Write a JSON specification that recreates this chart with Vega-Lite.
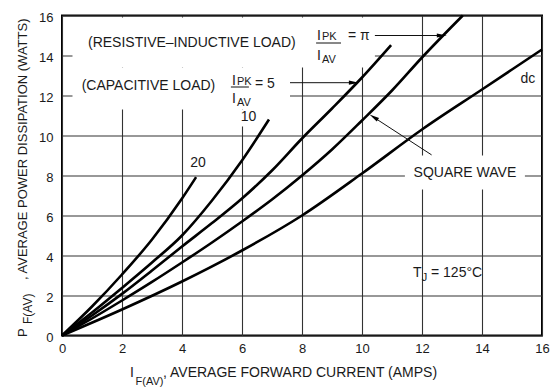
{
  "$schema": "https://vega.github.io/schema/vega-lite/v6.json",
  "width": 480,
  "height": 320,
  "autosize": "none",
  "padding": {"left": 62, "top": 15.5, "right": 15, "bottom": 56.5},
  "background": "white",
  "config": {
    "view": {"stroke": "#000", "strokeWidth": 2},
    "font": "Liberation Sans",
    "text": {"font": "Liberation Sans", "fontSize": 14, "color": "#1a1a1a"}
  },
  "encoding": {
    "x": {
      "field": "x", "type": "quantitative",
      "scale": {"domain": [0, 16], "nice": false, "zero": false},
      "axis": {
        "values": [0, 2, 4, 6, 8, 10, 12, 14, 16],
        "grid": true, "gridColor": "#333", "gridWidth": 1.1,
        "domain": false, "ticks": false,
        "labelFont": "Liberation Sans", "labelFontSize": 13, "labelColor": "#1a1a1a",
        "labelPadding": 7, "labelFlush": false, "title": null
      }
    },
    "y": {
      "field": "y", "type": "quantitative",
      "scale": {"domain": [0, 16], "nice": false, "zero": false},
      "axis": {
        "values": [0, 2, 4, 6, 8, 10, 12, 14, 16],
        "grid": true, "gridColor": "#333", "gridWidth": 1.1,
        "domain": false, "ticks": false,
        "labelFont": "Liberation Sans", "labelFontSize": 13, "labelColor": "#1a1a1a",
        "labelPadding": 9, "labelOffset": 2, "labelFlush": false, "title": null
      }
    }
  },
  "layer": [
    {
      "description": "white boxes behind the annotation text",
      "data": {"values": [
        {"x": 0.35, "x2": 10.43, "y": 13.4, "y2": 15.9},
        {"x": 0.35, "x2": 7.6, "y": 11.3, "y2": 13.4},
        {"x": 5.85, "x2": 6.6, "y": 10.45, "y2": 11.3},
        {"x": 11.43, "x2": 15.43, "y": 7.3, "y2": 9.0}
      ]},
      "mark": {"type": "rect", "color": "white"},
      "encoding": {"x2": {"field": "x2"}, "y2": {"field": "y2"}}
    },
    {
      "description": "power dissipation curves",
      "data": {"values": [
        {"s": "20", "x": 0, "y": 0}, {"s": "20", "x": 1, "y": 1.45}, {"s": "20", "x": 2, "y": 3.05},
        {"s": "20", "x": 3, "y": 4.8}, {"s": "20", "x": 4, "y": 6.85}, {"s": "20", "x": 4.47, "y": 7.92},
        {"s": "10", "x": 0, "y": 0}, {"s": "10", "x": 1, "y": 1.15}, {"s": "10", "x": 2, "y": 2.38},
        {"s": "10", "x": 3, "y": 3.65}, {"s": "10", "x": 4, "y": 5.0}, {"s": "10", "x": 5, "y": 6.75},
        {"s": "10", "x": 6, "y": 8.75}, {"s": "10", "x": 6.9, "y": 10.8},
        {"s": "5", "x": 0, "y": 0}, {"s": "5", "x": 1, "y": 1.0}, {"s": "5", "x": 2, "y": 2.08},
        {"s": "5", "x": 3, "y": 3.25}, {"s": "5", "x": 4, "y": 4.45}, {"s": "5", "x": 5, "y": 5.62},
        {"s": "5", "x": 6, "y": 6.85}, {"s": "5", "x": 7, "y": 8.25}, {"s": "5", "x": 8, "y": 9.85},
        {"s": "5", "x": 9, "y": 11.35}, {"s": "5", "x": 10, "y": 12.9}, {"s": "5", "x": 10.97, "y": 14.52},
        {"s": "pi", "x": 0, "y": 0}, {"s": "pi", "x": 1, "y": 0.85}, {"s": "pi", "x": 2, "y": 1.75},
        {"s": "pi", "x": 3, "y": 2.68}, {"s": "pi", "x": 4, "y": 3.65}, {"s": "pi", "x": 5, "y": 4.65},
        {"s": "pi", "x": 6, "y": 5.7}, {"s": "pi", "x": 7, "y": 6.8}, {"s": "pi", "x": 8, "y": 8.0},
        {"s": "pi", "x": 9, "y": 9.3}, {"s": "pi", "x": 10, "y": 10.75}, {"s": "pi", "x": 11, "y": 12.25},
        {"s": "pi", "x": 12, "y": 13.9}, {"s": "pi", "x": 13.36, "y": 16.0},
        {"s": "dc", "x": 0, "y": 0}, {"s": "dc", "x": 2, "y": 1.3}, {"s": "dc", "x": 4, "y": 2.7},
        {"s": "dc", "x": 6, "y": 4.25}, {"s": "dc", "x": 8, "y": 6.0}, {"s": "dc", "x": 10, "y": 8.1},
        {"s": "dc", "x": 12, "y": 10.3}, {"s": "dc", "x": 14, "y": 12.3}, {"s": "dc", "x": 16, "y": 14.3}
      ]},
      "mark": {"type": "line", "color": "#000", "strokeWidth": 2.6, "interpolate": "monotone"},
      "encoding": {"detail": {"field": "s"}}
    },
    {
      "description": "arrow shafts and fraction bars",
      "data": {"values": [
        {"x": 10.43, "x2": 12.7, "y": 15.0, "y2": 15.0},
        {"x": 7.6, "x2": 9.75, "y": 12.64, "y2": 12.64},
        {"x": 12.32, "x2": 10.35, "y": 9.03, "y2": 10.95},
        {"x": 8.47, "x2": 9.3, "y": 14.625, "y2": 14.625},
        {"x": 5.63, "x2": 6.23, "y": 12.425, "y2": 12.425}
      ]},
      "mark": {"type": "rule", "color": "#111", "strokeWidth": 1},
      "encoding": {"x2": {"field": "x2"}, "y2": {"field": "y2"}}
    },
    {
      "description": "right-pointing arrowheads",
      "data": {"values": [{"x": 12.66, "y": 15.0}, {"x": 9.73, "y": 12.64}]},
      "mark": {"type": "point", "filled": true, "color": "#000", "opacity": 1, "size": 100,
               "shape": "M1,0L-1,-0.42L-1,0.42Z"},
      "encoding": {}
    },
    {
      "description": "square wave arrowhead",
      "data": {"values": [{"x": 10.39, "y": 10.92}]},
      "mark": {"type": "point", "filled": true, "color": "#000", "opacity": 1, "size": 100, "angle": 213,
               "shape": "M1,0L-1,-0.42L-1,0.42Z"},
      "encoding": {}
    },
    {
      "description": "left-aligned annotation text",
      "data": {"values": [
        {"x": 0.867, "y": 14.425, "t": "(RESISTIVE–INDUCTIVE LOAD)"},
        {"x": 0.657, "y": 12.275, "t": "(CAPACITIVE LOAD)"},
        {"x": 8.5, "y": 14.775, "t": "I"},
        {"x": 9.533, "y": 14.775, "t": "= π"},
        {"x": 8.5, "y": 13.775, "t": "I"},
        {"x": 5.667, "y": 12.525, "t": "I"},
        {"x": 6.433, "y": 12.375, "t": "= 5"},
        {"x": 5.667, "y": 11.625, "t": "I"},
        {"x": 11.7, "y": 2.925, "t": "T"},
        {"x": 12.3, "y": 2.925, "t": "= 125°C"},
        {"x": 2.267, "y": -2.075, "t": "I"},
        {"x": 3.367, "y": -2.075, "t": ", AVERAGE FORWARD CURRENT (AMPS)"}
      ]},
      "mark": {"type": "text", "align": "left", "baseline": "alphabetic", "fontSize": 14},
      "encoding": {"text": {"field": "t"}}
    },
    {
      "description": "subscripts",
      "data": {"values": [
        {"x": 8.667, "y": 14.775, "t": "PK"},
        {"x": 8.667, "y": 13.625, "t": "AV"},
        {"x": 5.833, "y": 12.525, "t": "PK"},
        {"x": 5.833, "y": 11.475, "t": "AV"},
        {"x": 11.99, "y": 2.725, "t": "J"},
        {"x": 2.45, "y": -2.475, "t": "F(AV)"}
      ]},
      "mark": {"type": "text", "align": "left", "baseline": "alphabetic", "fontSize": 11},
      "encoding": {"text": {"field": "t"}}
    },
    {
      "description": "curve labels",
      "data": {"values": [
        {"x": 6.217, "y": 10.925, "t": "10"},
        {"x": 4.533, "y": 8.625, "t": "20"},
        {"x": 15.53, "y": 12.85, "t": "dc"},
        {"x": 13.43, "y": 8.15, "t": "SQUARE WAVE"}
      ]},
      "mark": {"type": "text", "align": "center", "baseline": "middle", "fontSize": 14},
      "encoding": {"text": {"field": "t"}}
    },
    {
      "description": "vertical axis title",
      "data": {"values": [
        {"x": -1.167, "y": -0.075, "t": "P"},
        {"x": -1.167, "y": 2.775, "t": ", AVERAGE POWER DISSIPATION (WATTS)"}
      ]},
      "mark": {"type": "text", "align": "left", "baseline": "alphabetic", "angle": 270, "fontSize": 13},
      "encoding": {"text": {"field": "t"}}
    },
    {
      "description": "vertical axis title subscript",
      "data": {"values": [{"x": -1.0, "y": 0.575, "t": "F(AV)"}]},
      "mark": {"type": "text", "align": "left", "baseline": "alphabetic", "angle": 270, "fontSize": 12},
      "encoding": {"text": {"field": "t"}}
    }
  ]
}
